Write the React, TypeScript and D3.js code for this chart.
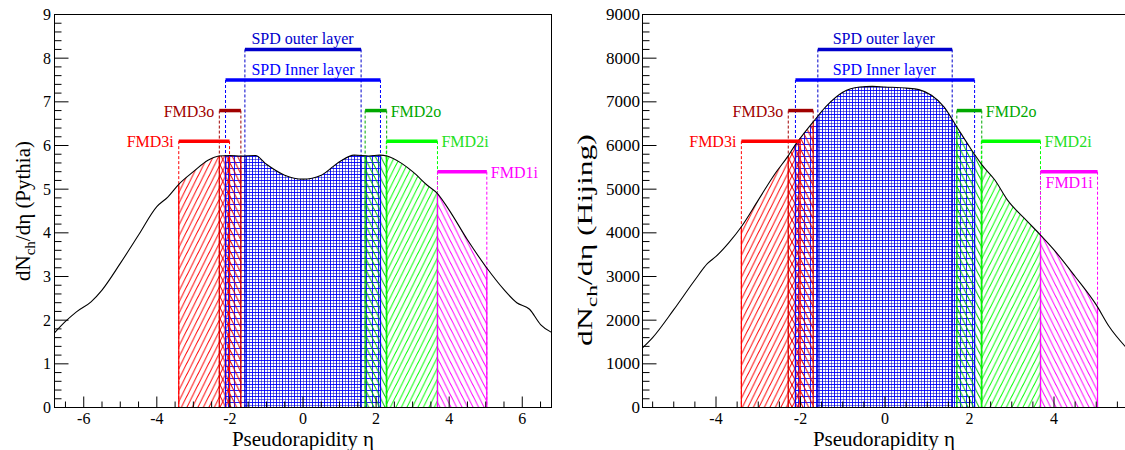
import React from 'react';
import * as d3 from 'd3';

// ---------------- data ----------------
const PYTHIA_ETA = [-6.8, -6.5, -6.2, -5.8, -5.5, -5.0, -4.5, -4.0, -3.7, -3.4, -3.0, -2.6, -2.3, -2.0, -1.7, -1.3, -1.0, -0.5, 0, 0.5, 1.0, 1.4, 1.8, 2.1, 2.3, 2.7, 3.0, 3.4, 3.68, 4.0, 4.5, 5.0, 5.5, 5.85, 6.2, 6.5, 6.8];
const PYTHIA_DNDETA = [1.71, 1.97, 2.19, 2.42, 2.69, 3.3, 3.95, 4.6, 4.82, 5.11, 5.4, 5.66, 5.76, 5.77, 5.76, 5.77, 5.57, 5.32, 5.23, 5.32, 5.63, 5.78, 5.76, 5.78, 5.76, 5.59, 5.4, 5.09, 4.9, 4.52, 3.84, 3.23, 2.7, 2.4, 2.25, 1.9, 1.72];

const HIJING_ETA = [-5.74, -5.5, -5.0, -4.5, -4.2, -4.0, -3.7, -3.4, -3.0, -2.6, -2.3, -2.1, -1.9, -1.7, -1.4, -1.0, -0.6, -0.3, 0, 0.5, 0.8, 1.1, 1.4, 1.7, 2.0, 2.3, 2.6, 2.9, 3.3, 3.68, 4.0, 4.5, 5.0, 5.3, 5.74];
const HIJING_DNDETA = [1364, 1600, 2240, 2920, 3300, 3460, 3770, 4140, 4750, 5360, 5750, 6050, 6300, 6540, 6890, 7220, 7340, 7355, 7340, 7315, 7280, 7150, 6880, 6425, 5970, 5550, 5210, 4750, 4330, 3950, 3610, 3000, 2350, 1860, 1340];

const DET_NAMES = ['SPD Inner layer', 'SPD outer layer', 'FMD3i', 'FMD3o', 'FMD2o', 'FMD2i', 'FMD1i'];
const DET_LO = [-2.12, -1.59, -3.40, -2.29, 1.70, 2.28, 3.68];
const DET_HI = [2.12, 1.59, -2.01, -1.70, 2.29, 3.68, 5.03];
const DET_LEVEL = [7.5, 8.2, 6.1, 6.8, 6.8, 6.1, 5.4]; // in ninths of the y range

const X_TICKS_LEFT = [-6, -4, -2, 0, 2, 4, 6];
const X_TICKS_RIGHT = [-4, -2, 0, 2, 4];
const Y_TICKS_LEFT = [0, 1, 2, 3, 4, 5, 6, 7, 8, 9];
const Y_TICKS_RIGHT = [0, 1000, 2000, 3000, 4000, 5000, 6000, 7000, 8000, 9000];

// ---------------- styles ----------------
const BAR_COLORS = ['#0000ff', '#0000cc', '#ff0000', '#a00000', '#00a800', '#00ff00', '#ff00ff'];
const TEXT_COLORS = ['#0000ff', '#0000cc', '#ff0000', '#a00000', '#00a800', '#22e022', '#ff00ff'];
const FILL_COLORS = ['#0000ff', '#0000cc', '#ff0000', '#e00000', '#00c000', '#00ff00', '#ff00ff'];
const PATTERNS = ['gridA', 'gridB', 'fwd', 'bwd', 'bwd', 'fwd', 'bwd'];

const FONT = "'Liberation Serif', 'Times New Roman', 'DejaVu Serif', serif";
const TXT = { fontFamily: FONT };

const HW = 5.5;
const HH = 11;

function Hatch({ id, color, dir }: { id: string; color: string; dir: string }) {
  const w = HW, h = HH;
  const d = dir === 'fwd'
    ? `M${-0.2 * w},${1.2 * h} L${1.2 * w},${-0.2 * h} M${0.8 * w},${1.2 * h} L${1.2 * w},${0.8 * h} M${-0.2 * w},${0.2 * h} L${0.2 * w},${-0.2 * h}`
    : `M${-0.2 * w},${-0.2 * h} L${1.2 * w},${1.2 * h} M${0.8 * w},${-0.2 * h} L${1.2 * w},${0.2 * h} M${-0.2 * w},${0.8 * h} L${0.2 * w},${1.2 * h}`;
  return (
    <pattern id={id} patternUnits="userSpaceOnUse" width={w} height={h}>
      <path d={d} stroke={color} strokeWidth={1} fill="none" />
    </pattern>
  );
}

function Grid({ id, color, offset, sw }: { id: string; color: string; offset: number; sw: number }) {
  const g = 6;
  return (
    <pattern id={id} patternUnits="userSpaceOnUse" width={g} height={g} x={offset} y={offset}>
      <path d={`M0,0.5 H${g} M0.5,0 V${g}`} stroke={color} strokeWidth={sw} fill="none" />
    </pattern>
  );
}

type PanelProps = {
  id: string;
  eta: number[];
  vals: number[];
  px0: number;
  px1: number;
  dom: [number, number];
  yMax: number;
  xTicks: number[];
  yTicks: number[];
  yMinorStep: number;
  model: string;
  titleX: number;
  titleY: number;
  titleStretch: number;
  spdLabelEta: number;
  fmd1Below: boolean;
  yLabelEnd: number;
  yLabelSize: number;
  xTitleX: number;
};

const TOP = 14.5;
const BOT = 407.5;

function Panel(p: PanelProps) {
  const x = d3.scaleLinear().domain(p.dom).range([p.px0, p.px1]);
  const y = d3.scaleLinear().domain([0, p.yMax]).range([BOT, TOP]);
  const pts = p.eta.map((e, i) => [e, p.vals[i]] as [number, number]);
  const line = d3.line<[number, number]>().x(d => x(d[0])).y(d => y(d[1])).curve(d3.curveMonotoneX)(pts) || '';
  const area = d3.area<[number, number]>().x(d => x(d[0])).y0(y(0)).y1(d => y(d[1])).curve(d3.curveMonotoneX)(pts) || '';
  const lvl = (i: number) => y((DET_LEVEL[i] / 9) * p.yMax);
  const plotClip = `${p.id}-plot`;
  const underClip = `${p.id}-under`;

  const xMinor = d3.range(Math.ceil(p.dom[0] * 2) / 2, p.dom[1] + 1e-9, 0.5);
  const yMinor = d3.range(0, p.yMax + 1e-9, p.yMinorStep);

  const labels = DET_NAMES.map((name, i) => {
    const yl = lvl(i);
    if (i <= 1) {
      return { name, i, tx: x(p.spdLabelEta), ty: yl - 5, anchor: 'start' };
    }
    if (name === 'FMD3i' || name === 'FMD3o') {
      return { name, i, tx: x(DET_LO[i]) - 5, ty: yl + 6, anchor: 'end' };
    }
    if (name === 'FMD1i' && p.fmd1Below) {
      return { name, i, tx: x(DET_LO[i]) + 5, ty: yl + 16, anchor: 'start' };
    }
    return { name, i, tx: x(DET_HI[i]) + 4, ty: yl + 6, anchor: 'start' };
  });

  return (
    <g>
      <defs>
        <clipPath id={plotClip}>
          <rect x={p.px0} y={TOP} width={p.px1 - p.px0} height={BOT - TOP} />
        </clipPath>
        <clipPath id={underClip}>
          <path d={area} />
        </clipPath>
        {DET_NAMES.map((n, i) => (
          <clipPath key={n} id={`${p.id}-reg${i}`}>
            <rect x={x(DET_LO[i])} y={TOP} width={x(DET_HI[i]) - x(DET_LO[i])} height={BOT - TOP} />
          </clipPath>
        ))}
      </defs>
      <g clipPath={`url(#${plotClip})`}>
        {DET_NAMES.map((n, i) => (
          <g key={n} clipPath={`url(#${p.id}-reg${i})`}>
            <path d={area} fill={`url(#${PATTERNS[i]}${i})`} />
          </g>
        ))}
        {DET_NAMES.map((n, i) => (
          <g key={'d' + n}>
            {[DET_LO[i], DET_HI[i]].map((e, k) => (
              <line key={k} x1={x(e)} x2={x(e)} y1={lvl(i)} y2={BOT} stroke={BAR_COLORS[i]} strokeWidth={1} strokeDasharray="3,2" />
            ))}
          </g>
        ))}
        <g clipPath={`url(#${underClip})`}>
          {DET_NAMES.map((n, i) => (
            <g key={'s' + n}>
              {[DET_LO[i], DET_HI[i]].map((e, k) => (
                <line key={k} x1={x(e)} x2={x(e)} y1={TOP} y2={BOT} stroke={FILL_COLORS[i]} strokeWidth={1.2} />
              ))}
            </g>
          ))}
        </g>
        <path d={line} fill="none" stroke="#000" strokeWidth={1.1} />
      </g>
      {DET_NAMES.map((n, i) => (
        <line key={'b' + n} x1={x(DET_LO[i])} x2={x(DET_HI[i])} y1={lvl(i)} y2={lvl(i)} stroke={BAR_COLORS[i]} strokeWidth={3.5} />
      ))}
      {labels.map(l => (
        <text key={'t' + l.name} x={l.tx} y={l.ty} fill={TEXT_COLORS[l.i]} fontSize={16} style={TXT} textAnchor={l.anchor as any}>
          {l.name}
        </text>
      ))}
      <rect x={p.px0} y={TOP} width={p.px1 - p.px0} height={BOT - TOP} fill="none" stroke="#000" strokeWidth={1} />
      {xMinor.map(t => {
        const major = p.xTicks.some(m => Math.abs(m - t) < 1e-6);
        return <line key={'xt' + t} x1={x(t)} x2={x(t)} y1={BOT} y2={BOT - (major ? 11 : 6)} stroke="#000" strokeWidth={1} />;
      })}
      {p.xTicks.map(t => (
        <text key={'xl' + t} x={x(t)} y={424} textAnchor="middle" fontSize={16} style={TXT} fill="#000">
          {t < 0 ? `-${-t}` : `${t}`}
        </text>
      ))}
      {yMinor.map(t => {
        const major = p.yTicks.some(m => Math.abs(m - t) < 1e-6);
        return <line key={'yt' + t} x1={p.px0} x2={p.px0 + (major ? 14 : 7)} y1={y(t)} y2={y(t)} stroke="#000" strokeWidth={1} />;
      })}
      {p.yTicks.map(t => (
        <text key={'yl' + t} x={p.yLabelEnd} y={y(t) + 5.5} textAnchor="end" fontSize={p.yLabelSize} style={TXT} fill="#000">
          {t}
        </text>
      ))}
      <text x={p.xTitleX} y={445.5} textAnchor="middle" fontSize={21} style={TXT} fill="#000">
        Pseudorapidity η
      </text>
      <text transform={`translate(${p.titleX},${p.titleY}) rotate(-90) scale(${p.titleStretch},1)`} textAnchor="middle" fontSize={p.titleStretch > 1 ? 20 : 21} style={TXT} fill="#000">
        dN<tspan fontSize={15} dy={5}>ch</tspan><tspan dy={-5}>/dη ({p.model})</tspan>
      </text>
    </g>
  );
}

export default function App() {
  return (
    <svg width={1125} height={450} style={{ position: 'absolute', left: 0, top: 0, background: '#fff' }}>
      <defs>
        {DET_NAMES.map((n, i) =>
          PATTERNS[i] === 'gridA' ? (
            <Grid key={n} id={`gridA${i}`} color={FILL_COLORS[i]} offset={0} sw={0.9} />
          ) : PATTERNS[i] === 'gridB' ? (
            <Grid key={n} id={`gridB${i}`} color={FILL_COLORS[i]} offset={3} sw={0.55} />
          ) : (
            <Hatch key={n} id={`${PATTERNS[i]}${i}`} color={FILL_COLORS[i]} dir={PATTERNS[i]} />
          )
        )}
      </defs>
      <rect x={0} y={0} width={1125} height={450} fill="#fff" />
      <Panel
        id="L"
        eta={PYTHIA_ETA}
        vals={PYTHIA_DNDETA}
        px0={54.5}
        px1={551.5}
        dom={[-6.8, 6.8]}
        yMax={9}
        xTicks={X_TICKS_LEFT}
        yTicks={Y_TICKS_LEFT}
        yMinorStep={0.2}
        model="Pythia"
        titleX={30}
        titleY={211}
        titleStretch={1}
        spdLabelEta={-1.41}
        fmd1Below={false}
        yLabelEnd={51}
        yLabelSize={16}
        xTitleX={303}
      />
      <Panel
        id="R"
        eta={HIJING_ETA}
        vals={HIJING_DNDETA}
        px0={642.5}
        px1={642.5 + 11.48 * 42.25}
        dom={[-5.74, 5.74]}
        yMax={9000}
        xTicks={X_TICKS_RIGHT}
        yTicks={Y_TICKS_RIGHT}
        yMinorStep={200}
        model="Hijing"
        titleX={592}
        titleY={240}
        titleStretch={1.58}
        spdLabelEta={-1.24}
        fmd1Below={true}
        yLabelEnd={640}
        yLabelSize={17}
        xTitleX={884}
      />
    </svg>
  );
}
